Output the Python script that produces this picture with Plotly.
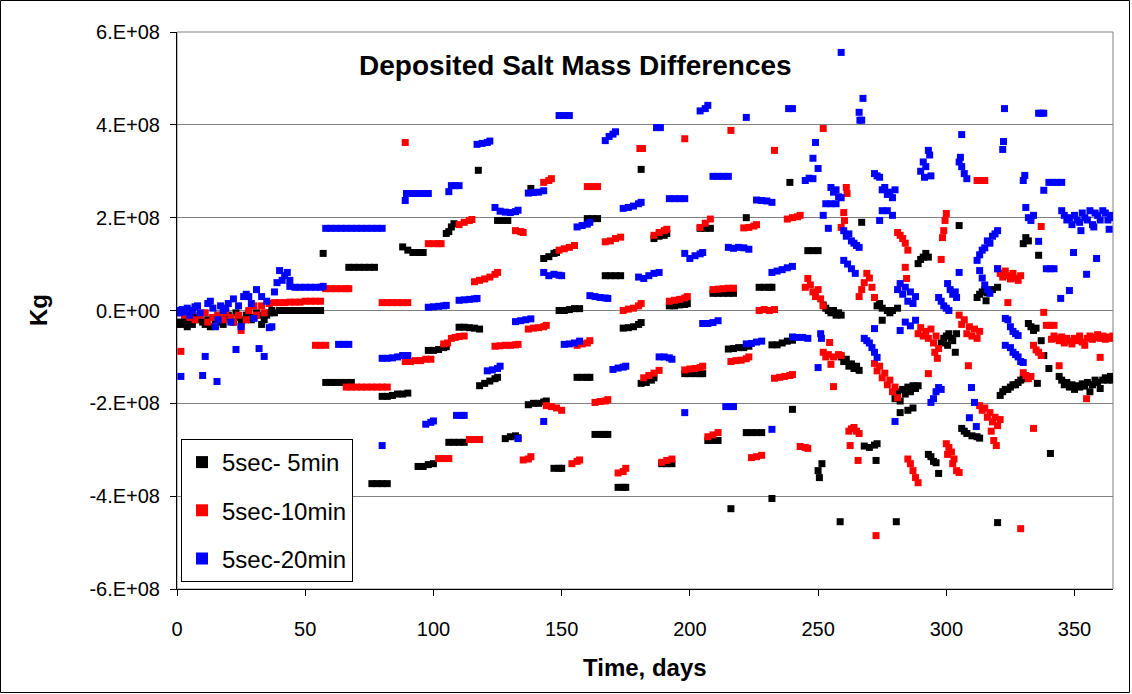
import plotly.graph_objects as go

# ---------------- data (day, value in units of 1e8 kg) ----------------
black_points = [
    (0,-0.3),(1,-0.25),(2,-0.3),(3,-0.2),(4,-0.35),(5,-0.25),(6,-0.3),(7,-0.15),(8,-0.2),(9,-0.1),
    (10,-0.25),(11,-0.3),(12,-0.2),(13,-0.35),(14,-0.15),(15,-0.2),(16,-0.1),(17,-0.25),(18,-0.3),(19,-0.15),
    (20,-0.1),(21,-0.2),(22,-0.25),(23,-0.05),(24,-0.15),(25,-0.3),(26,-0.2),(27,-0.1),(28,-0.05),(29,-0.2),
    (30,-0.15),(31,-0.05),(32,-0.1),(33,-0.3),(34,-0.2),(35,-0.1),(36,-0.05),(37,0),(38,-0.05),(40,0),
    (42,0),(44,0),(46,0),(48,0),(50,0),(52,0),(54,0),(56,0),
    (57,1.23),
    (58,-1.55),(60,-1.55),(62,-1.55),(64,-1.55),(66,-1.55),(68,-1.55),
    (67,0.93),(69,0.93),(71,0.93),(73,0.93),(75,0.93),(77,0.93),
    (76,-3.73),(78,-3.73),(80,-3.73),(82,-3.73),
    (80,-1.85),(82,-1.85),(84,-1.83),(86,-1.8),(88,-1.8),(90,-1.78),
    (88,1.37),(90,1.3),(92,1.25),(94,1.25),(96,1.25),
    (94,-3.36),(96,-3.36),(98,-3.32),(100,-3.3),
    (98,-0.86),(100,-0.86),(102,-0.84),(104,-0.8),(105,-0.78),
    (105,1.66),(106,1.7),(107,1.8),(108,1.87),
    (106,-2.84),(108,-2.84),(110,-2.84),(112,-2.84),
    (110,-0.36),(112,-0.36),(114,-0.37),(116,-0.38),(118,-0.4),
    (117.5,3.02),
    (118,-1.62),(120,-1.57),(122,-1.52),(124,-1.47),(125,-1.44),
    (125,1.94),(127,1.94),(129,1.94),
    (128,-2.76),(130,-2.72),(132,-2.7),(133,-2.74),
    (137,-2.03),(139,-2.0),(141,-2.0),(143,-1.97),(144,-1.95),
    (138,2.63),
    (143,1.12),(145,1.16),(147,1.23),(148,1.25),
    (147,-3.4),(149,-3.4),(150,-3.4),
    (149,0.0),(151,0.0),(153,0.02),(155,0.04),(157,0.04),
    (156,-1.44),(158,-1.44),(160,-1.44),(161,-1.44),
    (160,1.98),(162,1.98),(164,1.98),
    (163,-2.67),(165,-2.67),(167,-2.67),(168,-2.67),
    (167,0.75),(169,0.75),(171,0.75),(173,0.75),
    (172,-3.81),(174,-3.81),(175,-3.81),
    (174,-0.38),(176,-0.37),(178,-0.35),(180,-0.3),(181,-0.26),
    (181,3.04),
    (181,-1.57),(183,-1.55),(185,-1.5),(186,-1.45),
    (186,1.55),(188,1.6),(190,1.62),(191,1.66),
    (189,-3.3),(191,-3.3),(193,-3.3),
    (192,0.1),(194,0.1),(196,0.12),(198,0.13),(199,0.15),
    (198,-1.36),(200,-1.36),(202,-1.36),(204,-1.36),(205,-1.36),
    (204,1.77),(206,1.77),(208,1.77),
    (207,-2.8),(209,-2.8),(211,-2.8),
    (209,0.37),(211,0.37),(213,0.37),(215,0.37),(217,0.37),
    (216,-4.27),
    (215,-0.83),(217,-0.82),(219,-0.8),(221,-0.8),(223,-0.77),
    (222,2.0),
    (222,-2.63),(224,-2.63),(226,-2.63),(228,-2.63),
    (227,0.5),(229,0.5),(231,0.5),(232,0.5),
    (232,-4.05),
    (232,-0.74),(234,-0.74),(236,-0.7),(238,-0.66),(240,-0.64),
    (239,2.76),(240,-2.13),
    (246,1.29),(248,1.29),(250,1.29),
    (250,-3.45),(250.5,-3.6),(251.5,-3.3),
    (252,0.12),(253,0.05),(254,0.0),(255,-0.05),(256,0.0),(257,-0.1),(258,-0.05),(259,-0.1),
    (258.6,-4.55),
    (259,-1.0),(260,-1.1),(261,-1.05),(262,-1.2),(263,-1.15),(264,-1.25),(265,-1.2),(266,-1.29),
    (267,1.9),
    (268,-2.92),(270,-2.95),(272,-2.9),(273,-2.87),
    (272.6,-3.23),(275,-0.21),
    (273,0.1),(274,0.15),(275,0.05),(277,0.0),(278,-0.05),(279,0.0),(281,0.05),
    (280.5,-4.55),
    (280,-1.9),(281,-1.75),(282,-1.95),(283,-1.7),(284,-1.8),(285,-1.65),(286,-1.75),(287,-1.62),(288,-1.68),(289,-1.62),
    (282,-2.2),(285,-2.15),(287,-2.1),
    (289,1.01),(290,1.1),(291,1.15),(292,1.23),(293,1.15),
    (293,-3.1),(294,-3.15),(295,-3.25),(296,-3.28),(297,-3.51),
    (298,-0.7),(299,-0.6),(300,-0.55),(301,-0.5),(302,-0.6),
    (300.5,-0.75),(302.5,-0.65),(304,-0.5),(303.5,-0.9),
    (305,1.83),
    (306,-2.54),(307,-2.6),(308,-2.65),(310,-2.7),(312,-2.72),(313,-2.75),
    (312,0.28),(313,0.35),(314,0.4),(315,0.45),(316,0.38),(318,0.45),(320,0.5),(315.5,0.21),
    (320,-4.57),
    (321,-1.83),(322,-1.75),(323,-1.7),(324,-1.7),(325,-1.65),(326,-1.6),(327,-1.6),(328,-1.55),(329,-1.5),(330,-1.47),
    (330,1.44),(331,1.57),(332,1.5),
    (332,-0.28),(333,-0.35),(334,-0.43),(335,-0.38),
    (335.5,-1.57),(336,1.19),(337,-0.65),(338,-0.97),(340,-1.25),(340.6,-3.08),
    (344,-1.42),(345,-1.5),(346,-1.6),(347,-1.55),(348,-1.65),(349,-1.6),(350,-1.7),(351,-1.62),
    (352,-1.65),(353,-1.58),(354,-1.63),(355,-1.55),(356,-1.75),(357,-1.6),(358,-1.5),(359,-1.55),
    (360,-1.68),(361,-1.5),(362,-1.45),(363,-1.5),(364,-1.42),(365,-1.5),
]

red_points = [
    (0,-0.05),(1.5,-0.88),(3,-0.1),(5,-0.15),(7,-0.2),(9,-0.1),(11,-0.05),(12,-0.25),(14,-0.15),(16,-0.1),
    (18,-0.2),(19,-0.05),(21,-0.15),(22,-0.25),(24,-0.1),(25,-0.43),(27,-0.2),(28,0.0),(30,0.1),(31,-0.1),
    (33,0.1),(34,-0.05),(36,0.15),(38,0.17),(40,0.17),(42,0.17),(44,0.18),(46,0.18),(48,0.18),(50,0.2),
    (52,0.2),(54,0.2),(56,0.2),
    (54,-0.75),(56,-0.75),(58,-0.75),
    (58,0.47),(60,0.47),(62,0.47),(64,0.47),(66,0.47),(67,0.47),
    (66,-1.65),(68,-1.65),(70,-1.65),(72,-1.65),(74,-1.65),(76,-1.65),(78,-1.65),(80,-1.65),(82,-1.65),
    (80,0.17),(82,0.17),(84,0.17),(86,0.17),(88,0.17),(90,0.17),
    (89,3.62),
    (89,-1.1),(91,-1.1),(93,-1.08),(95,-1.08),(97,-1.05),(99,-1.05),
    (98,1.44),(100,1.44),(102,1.44),(103,1.44),
    (102,-3.19),(104,-3.19),(106,-3.19),
    (104,-0.72),(105.5,-0.7),(107,-0.6),(108.5,-0.58),(110,-0.56),(112,-0.55),
    (110,1.85),(112,1.9),(114,1.94),(115,1.96),
    (114,-2.78),(116,-2.78),(118,-2.78),
    (116,0.62),(118,0.65),(120,0.68),(122,0.72),(124,0.78),(125,0.82),
    (124,-0.77),(126,-0.76),(128,-0.75),(130,-0.75),(132,-0.74),(133,-0.73),
    (132,1.72),(134,1.7),(135,1.68),
    (135,-3.22),(137,-3.2),(138,-3.15),
    (137,-0.4),(139,-0.38),(141,-0.37),(143,-0.35),(144,-0.32),
    (143,2.76),(145,2.8),(146,2.84),
    (144,-2.05),(146,-2.07),(148,-2.1),(150,-2.15),
    (149,1.3),(151,1.33),(153,1.36),(155,1.4),
    (154,-3.3),(156,-3.25),(157,-3.22),
    (156,-0.75),(158,-0.72),(160,-0.7),(161,-0.65),
    (160,2.67),(162,2.67),(164,2.67),
    (163,-1.98),(165,-1.96),(167,-1.95),(168,-1.92),
    (167,1.48),(169,1.5),(171,1.55),(173,1.58),
    (172,-3.5),(174,-3.47),(175,-3.4),
    (174,0.0),(176,0.03),(178,0.05),(180,0.1),(181,0.15),
    (180.5,3.49),(181.5,3.49),
    (182,-1.45),(184,-1.4),(186,-1.35),(188,-1.29),
    (186,1.62),(188,1.68),(190,1.72),(191,1.75),
    (189,-3.27),(191,-3.23),(193,-3.2),
    (192,0.2),(194,0.22),(196,0.24),(198,0.27),(199,0.3),
    (198,3.7),
    (198,-1.28),(200,-1.26),(202,-1.25),(204,-1.23),(205,-1.2),
    (204,1.79),(206,1.88),(208,1.97),
    (207,-2.72),(209,-2.68),(211,-2.63),
    (209,0.45),(211,0.46),(213,0.47),(215,0.48),(217,0.48),
    (216,3.88),
    (216,-1.1),(218,-1.08),(220,-1.07),(222,-1.04),(223,-1.0),
    (221,1.78),(223,1.79),(225,1.82),(226,1.85),
    (224,-3.17),(226,-3.15),(228,-3.12),
    (227,0.0),(229,0.02),(231,0.0),(233,0.02),
    (233,3.45),
    (233,-1.46),(235,-1.44),(237,-1.42),(239,-1.4),(240,-1.38),
    (238,1.97),(240,2.0),(242,2.02),(243,2.05),
    (243,-2.93),(245,-2.95),(246,-2.97),
    (245,0.5),(246,0.69),(247,0.55),(248,0.4),(249,0.3),(250,0.45),(251,0.25),(252,0.1),
    (252,3.92),
    (252,-0.9),(253,-1.0),(254,-0.95),(256,-1.0),(258,-0.95),(259,-0.97),
    (254.5,-0.69),(255,-1.16),(256,-1.64),
    (259,1.79),(260,2.11),(260.3,1.94),(261,2.65),(261.3,2.52),
    (262,-2.6),(263,-2.55),(264,-2.52),(265,-2.6),(266,-2.65),(262.5,-2.91),(265.6,-3.23),
    (266,0.3),(267,0.45),(268,0.6),(269,0.8),(270,0.7),(271,0.5),(272,0.28),
    (272.6,-4.85),
    (272,-1.14),(273,-1.3),(274,-1.2),(275,-1.45),(276,-1.35),(277,-1.6),(278,-1.5),(279,-1.75),(280,-1.65),(281,-1.88),
    (281,1.68),(282,1.62),(283,1.55),(284,1.45),(285,1.3),(284,0.93),(284.5,0.69),
    (285,-3.2),(286,-3.3),(287,-3.45),(288,-3.6),(289,-3.71),
    (289,-0.5),(290,-0.37),(291,-0.55),(292,-0.45),(293,-0.6),(294,-0.4),(295,-0.7),(296,-0.55),(297,-0.82),
    (293,-1.36),(295.5,-0.9),(296.5,-1.03),
    (298,1.1),(298.5,1.57),(299,1.72),(299.5,1.94),(300,2.09),
    (300,-2.87),(300.5,-3.1),(301,-2.95),(302,-3.05),(302.5,-3.3),(303,-3.2),(304,-3.45),(305,-3.49),
    (305,-0.1),(306,-0.3),(307,-0.2),(308,-0.5),(309,-0.35),(310,-0.55),(311,-0.4),(312,-0.6),(313,-0.45),
    (308.6,-1.19),
    (312,2.8),(313.5,2.8),(315,2.8),
    (313,-2.05),(314,-2.15),(315,-2.1),(316,-2.3),(317,-2.2),(318,-2.4),(319,-2.3),(320,-2.48),(321,-2.35),
    (317.5,-2.6),(318.5,-2.8),(319.5,-2.91),
    (320,0.9),(321,0.8),(322,0.72),(323,0.85),(324,0.75),(325,0.68),(326,0.8),(327,0.7),(328,0.65),(329,0.75),
    (324,0.17),(329,-4.7),
    (330,-1.34),(331,-1.4),(332,-1.47),(333,-1.42),
    (334,-2.54),
    (334,-0.75),(335,-0.85),(336,-0.9),(337,-0.97),
    (337,1.81),(338,-0.04),
    (339,-0.32),(340.5,-0.32),(342,-0.32),
    (344,-1.19),
    (341,-0.62),(342,-0.55),(343,-0.6),(344,-0.65),(345,-0.57),(346,-0.7),(347,-0.6),(348,-0.66),(349,-0.72),
    (350,-0.6),(351,-0.65),(352,-0.55),(353,-0.68),(354,-0.75),(355,-0.6),(356,-0.55),(357,-0.62),(358,-0.58),
    (359,-0.52),(360,-0.6),(361,-0.55),(362,-0.62),(363,-0.57),(364,-0.6),(365,-0.55),
    (354.7,-1.9),(360,-1.01),
]

blue_points = [
    (0,0.0),(1,-0.05),(1.5,-1.42),(2,0.02),(3,-0.03),(4,0.05),(5,-0.1),(6,0.0),(7,0.08),(8,0.1),(9,-0.05),
    (10,-1.4),(11,-0.99),(12,0.15),(13,0.2),(14,0.05),(15,-0.35),(15.6,-1.53),(16,-0.2),(17,0.1),(18,0.0),
    (19,0.05),(20,0.15),(21,-0.25),(22,0.25),(23,-0.84),(24,0.1),(25,-0.35),(26,0.3),(27,0.35),(28,0.3),
    (29,0.15),(30,-0.17),(31,0.45),(32,-0.82),(33,0.3),(34,-0.99),(35,0.2),(36,-0.37),(37,-0.35),(38,0.4),
    (39,0.6),(40,0.86),(41,0.65),(42,0.75),(43,0.82),(44,0.65),
    (44,0.52),(46,0.5),(48,0.5),(50,0.5),(52,0.5),(54,0.5),(56,0.5),(57,0.52),
    (58,1.77),(60,1.77),(62,1.77),(64,1.77),(66,1.77),(68,1.77),(70,1.77),(72,1.77),(74,1.77),(76,1.77),(78,1.77),(80,1.77),
    (63,-0.73),(65,-0.73),(67,-0.73),
    (80,-2.91),
    (80,-1.03),(82,-1.03),(84,-1.02),(86,-1.0),(88,-0.97),(90,-0.97),
    (89,2.37),(89.5,2.52),(91,2.52),(93,2.52),(95,2.52),(97,2.52),(98,2.52),
    (97,-2.45),(99,-2.41),(100,-2.38),
    (98,0.07),(100,0.08),(102,0.09),(104,0.1),(105,0.11),
    (106,2.56),(107,2.69),(108.5,2.69),(110,2.69),
    (109,-2.26),(111,-2.26),(112,-2.26),
    (110,0.22),(112,0.23),(114,0.24),(116,0.25),(117,0.26),
    (117,3.58),(119,3.6),(121,3.62),(122,3.65),
    (121,-1.3),(123,-1.28),(125,-1.25),(126,-1.2),
    (124,2.22),(126,2.14),(128,2.12),(130,2.11),(132,2.13),(133,2.16),
    (132,-0.24),(134,-0.22),(136,-0.2),(138,-0.18),
    (133,-2.76),
    (137,2.53),(139,2.54),(141,2.55),(143,2.58),
    (143,-2.39),
    (143,0.82),(145,0.75),(147,0.78),(149,0.76),(150,0.75),
    (149,4.2),(151,4.2),(153,4.2),
    (151,-0.73),(153,-0.72),(155,-0.7),(157,-0.66),
    (156,1.8),(158,1.83),(160,1.86),(161,1.9),
    (161,0.32),(163,0.3),(165,0.28),(167,0.27),(168,0.26),
    (167,3.66),(168.5,3.75),(170,3.8),(171,3.85),
    (170,-1.27),(172,-1.24),(174,-1.22),(175,-1.2),
    (174,2.2),(176,2.22),(178,2.25),(180,2.3),(181,2.33),
    (180,0.72),(182,0.69),(184,0.75),(186,0.8),(188,0.82),
    (187,3.94),(188.5,3.94),
    (188,-1.0),(190,-1.0),(192,-1.02),(193,-1.05),
    (192,2.41),(194,2.41),(196,2.41),(198,2.41),
    (198,-2.2),
    (198,1.23),(200,1.12),(202,1.18),(204,1.22),(205,1.25),
    (204,4.3),(206,4.35),(207,4.42),
    (205,-0.28),(207,-0.28),(209,-0.26),(211,-0.22),
    (209,2.89),(211,2.89),(213,2.89),(215,2.89),
    (214,-2.07),(216,-2.07),(217,-2.07),
    (215,1.36),(217,1.34),(219,1.36),(221,1.35),(223,1.32),
    (222,4.16),
    (222,-0.72),(224,-0.71),(226,-0.68),(228,-0.66),
    (226,2.38),(228,2.37),(230,2.36),(232,2.33),
    (232,-2.56),
    (232,0.82),(234,0.85),(236,0.88),(238,0.92),(240,0.95),
    (238.5,4.35),(240,4.35),
    (240,-0.57),(242,-0.58),(244,-0.58),(246,-0.6),
    (245,2.8),(246.5,2.85),(248,2.84),(248,3.28),(249,3.62),(250,3.06),
    (250,-1.23),(251,-0.5),(251.3,-0.6),
    (252,2.05),(253,2.3),(255,2.3),(257,2.3),(254,1.77),
    (255,2.65),(256,2.55),(257,2.6),(258,2.45),(259,2.43),
    (259,5.56),
    (260,1.72),(261,1.6),(262,1.65),(263,1.5),(264,1.45),(265,1.4),(266,1.36),
    (260,1.08),(261.5,1.0),(263,0.9),(264.5,0.8),
    (266,4.27),(266.3,4.1),(267,4.1),(267.5,4.57),
    (268,-0.6),(269,-0.65),(270,-0.7),(271,-0.8),(272,-0.9),(273,-1.01),(272,-0.39),
    (272,2.95),(273,2.9),(274,2.87),
    (274,1.94),(275,2.15),(277,2.15),(279,2.05),
    (275,2.6),(276,2.65),(277,2.5),(278,2.55),(279,2.43),(280,2.6),
    (280,-2.39),
    (281,0.45),(282,0.58),(283,0.35),(284,0.5),(285,0.2),(286,0.4),(287,0.15),(288,0.3),
    (282,-0.43),(284,-0.25),(286,-0.33),(288,-0.21),
    (290,3.0),(291,3.2),(292,3.1),(293,3.45),(294,2.9),(291.5,2.87),(293.5,3.35),
    (294,-1.98),(295,-1.9),(296,-1.75),(297,-1.66),(298,-1.7),
    (297,0.28),(298,0.2),(299,0.1),(300,0.05),(301,0.0),
    (300.5,0.58),(301.5,0.45),(302.5,0.35),(303.5,0.4),(304,0.28),
    (305,0.82),(306,3.79),
    (305,3.2),(306,3.1),(307,2.95),(308,2.84),(305.5,3.3),
    (309,-2.31),(309.8,-1.66),(311,-1.98),(311.7,-2.5),
    (312,1.08),(313,1.2),(314,1.3),(315,1.35),(316,1.5),(317,1.45),(318,1.6),(319,1.65),(320,1.72),
    (313,0.86),(314,0.7),(315,0.55),(316,0.45),(317,0.37),
    (320,0.9),(322,3.47),(322.3,3.64),(322.7,4.35),
    (323,-0.17),(324,-0.2),(325,-0.35),(326,-0.45),(327,-0.5),(328,-0.54),
    (323,-0.75),(325,-0.8),(326,-0.9),(327,-0.95),(328,-1.0),(329,-1.1),(330,-1.12),
    (330,2.8),(330.6,2.91),
    (331,2.22),(332,2.0),(333,1.94),(334,2.05),
    (336,1.49),(336,4.25),(337,4.25),(338,4.25),(338,2.59),
    (339,0.9),(340.5,0.9),(342,0.9),
    (340,2.76),(341.5,2.76),(343,2.76),(345,2.76),
    (344.6,0.26),
    (345,2.15),(346,2.05),(347,1.95),(348,2.0),(349,1.85),(350,2.05),(351,1.95),(352,1.9),(353,2.1),
    (354,2.0),(355,1.95),(356,2.15),(357,1.85),(358,2.1),(359,2.05),(360,1.95),(361,2.15),(362,2.1),
    (363,1.95),(364,2.05),(365,2.0),(352.5,1.72),(357.5,1.8),(363.5,1.75),
    (348,0.43),(349.6,1.25),(354.7,0.78),(358.6,1.12),
]

series_names = ["5sec- 5min", "5sec-10min", "5sec-20min"]
series_colors = ["#000000", "#FF0000", "#0000FF"]
series_points = [black_points, red_points, blue_points]
SCALE = 1e8

y_tick_values = [-6e8, -4e8, -2e8, 0, 2e8, 4e8, 6e8]
y_tick_text = ["-6.E+08", "-4.E+08", "-2.E+08", "0.E+00", "2.E+08", "4.E+08", "6.E+08"]
x_tick_values = [0, 50, 100, 150, 200, 250, 300, 350]

FONT = "Liberation Sans, Arial, sans-serif"

fig = go.Figure()
for i, (name, color, pts) in enumerate(zip(series_names, series_colors, series_points)):
    fig.add_trace(go.Scatter(
        x=[p[0] for p in pts],
        y=[p[1] * SCALE for p in pts],
        mode="markers",
        name=name,
        legendgroup=f"g{i}",
        marker=dict(symbol="square", size=7, color=color, line=dict(width=0)),
    ))

W, H = 1132, 694
L, R, T, B = 177, 19, 32, 105
pw, ph = W - L - R, H - T - B

def px_x(px):
    return (px - L) / pw

def px_y(py):
    return (H - B - py) / ph

fig.update_layout(
    width=W, height=H,
    margin=dict(l=L, r=R, t=T, b=B, pad=0),
    paper_bgcolor="white", plot_bgcolor="white",
    font=dict(family=FONT, color="black", size=20),
    showlegend=True,
    legend=dict(
        x=px_x(181), y=px_y(439), xanchor="left", yanchor="top",
        bordercolor="black", borderwidth=1, bgcolor="white",
        font=dict(family=FONT, size=24, color="black"),
        tracegroupgap=14, itemsizing="constant",
    ),
    xaxis=dict(
        range=[0, 365], tickvals=x_tick_values,
        showgrid=False, zeroline=False,
        showline=True, linecolor="black", linewidth=1,
        ticks="outside", ticklen=6, tickcolor="black",
        tickfont=dict(family=FONT, size=20), ticklabelstandoff=16,
    ),
    yaxis=dict(
        range=[-6e8, 6e8], tickvals=y_tick_values, ticktext=y_tick_text,
        showgrid=True, gridcolor="#808080", gridwidth=1, zeroline=False,
        showline=True, linecolor="black", linewidth=1,
        ticks="outside", ticklen=6, tickcolor="black",
        tickfont=dict(family=FONT, size=20), ticklabelstandoff=6,
    ),
    shapes=[
        dict(type="rect", xref="paper", yref="paper", x0=0, x1=1, y0=0, y1=1,
             line=dict(color="#808080", width=1), layer="below"),
        dict(type="rect", xref="paper", yref="paper",
             x0=px_x(0.5), x1=px_x(W - 2.5), y0=px_y(0.5), y1=px_y(H - 1.5),
             line=dict(color="black", width=1), layer="below"),
    ],
    annotations=[
        dict(text="<b>Deposited Salt Mass Differences</b>", xref="paper", yref="paper",
             x=px_x(575), y=px_y(65), xanchor="center", yanchor="middle", showarrow=False,
             font=dict(family=FONT, size=28, color="black")),
        dict(text="<b>Time, days</b>", xref="paper", yref="paper",
             x=px_x(645), y=px_y(667), xanchor="center", yanchor="middle", showarrow=False,
             font=dict(family=FONT, size=24, color="black")),
        dict(text="<b>Kg</b>", xref="paper", yref="paper",
             x=px_x(38), y=px_y(310), xanchor="center", yanchor="middle", showarrow=False,
             textangle=-90, font=dict(family=FONT, size=24, color="black")),
    ],
)

fig.write_html("out.html")
